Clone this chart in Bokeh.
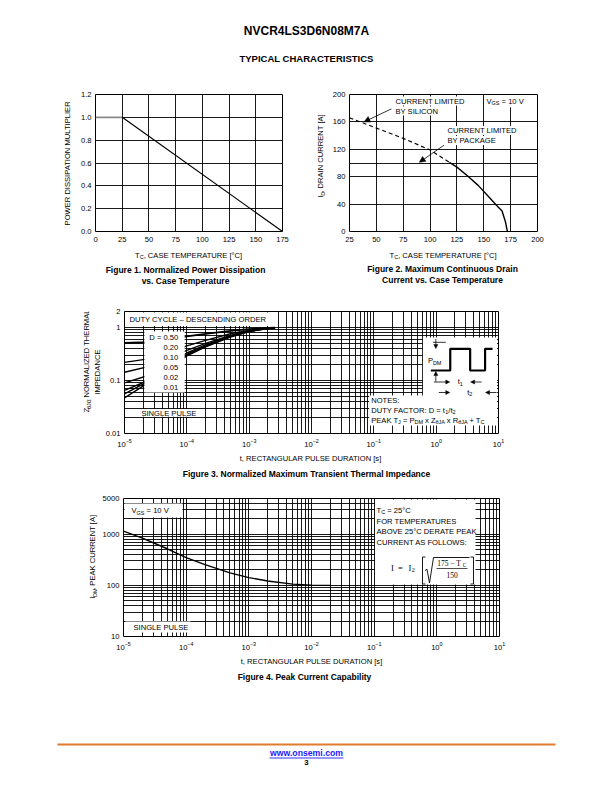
import math
from bokeh.plotting import figure
from bokeh.layouts import column, row
from bokeh.models import Label, Arrow, NormalHead, FixedTicker, CustomJSTickFormatter, PrintfTickFormatter
from bokeh.embed import file_html
from bokeh.resources import INLINE

SANS = "Liberation Sans"
SERIF = "Liberation Serif"

# ---------------- data ----------------
# Figure 1: normalized power dissipation vs case temperature
fig1_temp = [0, 25, 175]
fig1_mult = [1.0, 1.0, 0.0]
fig1_xticks = [0, 25, 50, 75, 100, 125, 150, 175]
fig1_yticks = [0.0, 0.2, 0.4, 0.6, 0.8, 1.0, 1.2]

# Figure 2: maximum continuous drain current vs case temperature
fig2_si_temp = [25, 50, 75, 100, 118]
fig2_si_cur = [166, 151, 136, 119, 101]
fig2_temp = [118, 125, 135, 145, 155, 162, 167, 170, 172]
fig2_cur = [101, 94, 81, 67, 50, 38, 30, 15, 0]
fig2_xticks = [25, 50, 75, 100, 125, 150, 175, 200]
fig2_yticks = [0, 40, 80, 120, 160, 200]
fig2_ygrid = [40, 80, 100, 120, 160]

# Figure 3: transient thermal impedance
fig3_t = [1e-5, 2.4e-5, 1e-4, 2e-4, 5e-4, 1e-3, 2e-3, 2.6e-3]
fig3_duty = ["0.50", "0.20", "0.10", "0.05", "0.02", "0.01"]
fig3_z_d50 = [0.51, 0.53, 0.68, 0.76, 0.86, 0.93, 0.98, 0.99]
fig3_z_d20 = [0.22, 0.255, 0.45, 0.57, 0.76, 0.89, 0.97, 0.99]
fig3_z_d10 = [0.143, 0.183, 0.37, 0.50, 0.71, 0.87, 0.96, 0.99]
fig3_z_d05 = [0.09, 0.124, 0.33, 0.47, 0.69, 0.86, 0.96, 0.99]
fig3_z_d02 = [0.065, 0.10, 0.31, 0.45, 0.68, 0.85, 0.96, 0.99]
fig3_z_d01 = [0.056, 0.096, 0.30, 0.44, 0.67, 0.85, 0.96, 0.99]
fig3_z_single = [0.047, 0.09, 0.29, 0.43, 0.66, 0.84, 0.95, 0.99]
fig3_yticks = [0.01, 0.1, 1, 2]

# Figure 4: peak current capability
fig4_t = [1e-5, 2e-5, 5e-5, 1e-4, 2e-4, 5e-4, 1e-3, 2e-3, 5e-3, 1e-2, 2e-2]
fig4_i = [1150, 840, 520, 350, 255, 175, 142, 122, 106, 101, 100]
fig4_yticks = [10, 100, 1000, 5000]

t_decades = [1e-5, 1e-4, 1e-3, 1e-2, 1e-1, 1, 10]
t_minor = [k * d for d in t_decades[:-1] for k in range(2, 10)]
z_minor = [k * d for d in [0.01, 0.1] for k in range(2, 10)]
i_minor = [k * d for d in [10, 100] for k in range(2, 10)] + [2000, 3000, 4000]

# ---------------- helpers ----------------
AW = {' ': 278, '!': 278, '(': 333, ')': 333, '+': 584, ',': 278, '-': 333, '.': 278, '/': 278,
      ':': 278, '=': 584, '[': 278, ']': 278, '°': 400, 'θ': 521, '–': 556, '−': 584,
      'A': 667, 'B': 667, 'C': 722, 'D': 722, 'E': 667, 'F': 611, 'G': 778, 'H': 722, 'I': 278,
      'J': 500, 'K': 667, 'L': 556, 'M': 833, 'N': 722, 'O': 778, 'P': 667, 'Q': 778, 'R': 722,
      'S': 667, 'T': 611, 'U': 722, 'V': 667, 'W': 944, 'X': 667, 'Y': 667, 'Z': 611,
      'a': 556, 'b': 556, 'c': 500, 'd': 556, 'e': 556, 'f': 278, 'g': 556, 'h': 556, 'i': 222,
      'j': 222, 'k': 500, 'l': 222, 'm': 833, 'n': 556, 'o': 556, 'p': 556, 'q': 556, 'r': 333,
      's': 500, 't': 278, 'u': 556, 'v': 500, 'w': 722, 'x': 500, 'y': 500, 'z': 500}


def tw(s, size):
    return sum(AW.get(c, 556) for c in s) / 1000.0 * size


class G:
    def __init__(s, fx0, fx1, fy0, fy1, x0, x1, y0, y1, xlog=False, ylog=False):
        s.fx0, s.fx1, s.fy0, s.fy1 = fx0, fx1, fy0, fy1
        s.x0, s.x1, s.y0, s.y1 = x0, x1, y0, y1
        s.xlog, s.ylog = xlog, ylog

    def x(s, px):
        f = (px - s.fx0) / (s.fx1 - s.fx0)
        if s.xlog:
            return 10 ** (math.log10(s.x0) + f * (math.log10(s.x1) - math.log10(s.x0)))
        return s.x0 + f * (s.x1 - s.x0)

    def y(s, py):
        f = (s.fy1 - py) / (s.fy1 - s.fy0)
        if s.ylog:
            return 10 ** (math.log10(s.y0) + f * (math.log10(s.y1) - math.log10(s.y0)))
        return s.y0 + f * (s.y1 - s.y0)


def put(p, g, px, py, parts, size=7.6, align="left", vertical=False, font=SANS, bold=False,
        color="black", bg=None):
    style = "bold" if bold else "normal"
    if isinstance(parts, str):
        p.add_layout(Label(x=g.x(px), y=g.y(py), text=parts, text_font=font,
                           text_font_size=f"{size:.2f}px", text_font_style=style,
                           text_color=color, text_align=align, text_baseline="middle",
                           angle=(math.pi / 2 if vertical else 0),
                           background_fill_color=bg))
        return
    ss = size * 0.72
    ws = [tw(t, ss if k else size) for t, k in parts]
    total = sum(ws)
    cur = {"left": 0, "center": -total / 2, "right": -total}[align]
    for (t, k), w in zip(parts, ws):
        s = ss if k else size
        lead = tw(t[:len(t) - len(t.lstrip(' '))], s)
        txt = t.strip(' ')
        if txt:
            shift = 0.3 * size if k == 1 else 0
            pos = cur + lead
            if vertical:
                X, Y, ang = px + shift, py - pos, math.pi / 2
            else:
                X, Y, ang = px + pos, py + shift, 0
            p.add_layout(Label(x=g.x(X), y=g.y(Y), text=txt, text_font=font,
                               text_font_size=f"{s:.2f}px", text_font_style=style,
                               text_color=color, text_align="left", text_baseline="middle",
                               angle=ang))
        cur += w


def box(p, g, x0, x1, y0, y1):
    p.quad(left=g.x(x0), right=g.x(x1), top=g.y(y0), bottom=g.y(y1),
           fill_color="white", line_color=None)


def seg(p, g, pts, w=1.0):
    p.line([g.x(a) for a, b in pts], [g.y(b) for a, b in pts], line_color="black", line_width=w)


def arrow(p, g, x0, y0, x1, y1, size=5):
    p.add_layout(Arrow(end=NormalHead(size=size, fill_color="black", line_color="black", line_width=0.5),
                       x_start=g.x(x0), y_start=g.y(y0), x_end=g.x(x1), y_end=g.y(y1),
                       line_width=0.8, line_color="black"))


def style(p):
    p.title.visible = False
    p.outline_line_color = "black"
    p.outline_line_width = 1
    p.outline_line_alpha = 1
    p.background_fill_color = "white"
    p.border_fill_color = "white"
    for ax in p.axis:
        ax.axis_line_color = None
        ax.major_tick_line_color = None
        ax.minor_tick_line_color = None
        ax.major_tick_out = 0
        ax.major_tick_in = 0
        ax.minor_tick_out = 0
        ax.minor_tick_in = 0
        ax.major_label_text_font = SANS
        ax.major_label_text_font_size = "7.6px"
        ax.major_label_text_color = "black"
    p.xaxis.major_label_standoff = 5
    p.yaxis.major_label_standoff = 4
    p.grid.grid_line_color = "black"
    p.grid.grid_line_width = 0.9


def strip(left, top, w, h):
    p = figure(width=w, height=h, x_range=(left, left + w), y_range=(top + h, top), min_border=0,
               x_axis_location=None, y_axis_location=None, toolbar_location=None,
               output_backend="svg")
    p.title.visible = False
    p.outline_line_color = None
    p.grid.visible = False
    p.background_fill_color = "white"
    p.border_fill_color = "white"
    return p, G(left, left + w, top, top + h, left, left + w, top + h, top)


# ---------------- header ----------------
hdr, gh = strip(0, 0, 612, 75)
put(hdr, gh, 306, 30, "NVCR4LS3D6N08M7A", size=12, bold=True, align="center")
put(hdr, gh, 306, 58, "TYPICAL CHARACTERISTICS", size=9.5, bold=True, align="center")

# ---------------- figure 1 ----------------
s1, gs1 = strip(0, 75, 74, 172)
put(s1, gs1, 67, 161.5, "POWER DISSIPATION MULTIPLIER", vertical=True, align="center")

p1 = figure(width=232, height=172, x_range=(0, 175), y_range=(0, 1.2),
            min_border_left=21, min_border_right=24, min_border_top=17, min_border_bottom=16,
            toolbar_location=None, output_backend="svg")
style(p1)
p1.xaxis.ticker = FixedTicker(ticks=fig1_xticks)
p1.yaxis.ticker = FixedTicker(ticks=fig1_yticks)
p1.xgrid.ticker = FixedTicker(ticks=fig1_xticks)
p1.ygrid.ticker = FixedTicker(ticks=fig1_yticks)
p1.yaxis.formatter = PrintfTickFormatter(format="%.1f")
p1.line(fig1_temp[:2], fig1_mult[:2], line_color="#8a8a8a", line_width=1.6)
p1.line(fig1_temp[1:], fig1_mult[1:], line_color="black", line_width=1.2)

# ---------------- figure 2 ----------------
s2, gs2 = strip(306, 75, 21, 172)
put(s2, gs2, 320, 162, [("I", 0), ("D", 1), (", DRAIN CURRENT [A]", 0)], vertical=True, align="center")

p2 = figure(width=285, height=172, x_range=(25, 200), y_range=(0, 200),
            min_border_left=22, min_border_right=75, min_border_top=19, min_border_bottom=16,
            toolbar_location=None, output_backend="svg")
style(p2)
p2.xaxis.ticker = FixedTicker(ticks=fig2_xticks)
p2.yaxis.ticker = FixedTicker(ticks=fig2_yticks)
p2.xgrid.ticker = FixedTicker(ticks=fig2_xticks)
p2.ygrid.ticker = FixedTicker(ticks=fig2_ygrid)
p2.line(fig2_si_temp, fig2_si_cur, line_color="black", line_width=1.2, line_dash="4 3")
p2.line(fig2_temp, fig2_cur, line_color="black", line_width=1.4)
g2 = G(349, 537, 94, 231, 25, 200, 0, 200)
p2.quad(left=152, right=199.5, top=199.4, bottom=181.5, fill_color="white", line_color=None)
put(p2, g2, 486, 100.5, [("V", 0), ("GS", 1), (" = 10 V", 0)])
put(p2, g2, 395, 100.5, "CURRENT LIMITED", bg="white")
put(p2, g2, 395, 110.5, "BY SILICON", bg="white")
put(p2, g2, 447, 130, "CURRENT LIMITED", bg="white")
put(p2, g2, 447, 140, "BY PACKAGE", bg="white")
p2.add_layout(Arrow(end=NormalHead(size=6, fill_color="black", line_color="black", line_width=0.5),
                    x_start=64, y_start=179, x_end=38.5, y_end=160, line_width=0.8))
p2.add_layout(Arrow(end=NormalHead(size=6, fill_color="black", line_color="black", line_width=0.5),
                    x_start=113, y_start=126, x_end=90, y_end=101, line_width=0.8))

# captions for figures 1 and 2
c12, gc12 = strip(0, 247, 612, 45)
put(c12, gc12, 188.5, 254.5, [("T", 0), ("C", 1), (", CASE TEMPERATURE [°C]", 0)], align="center")
put(c12, gc12, 185, 269, "Figure 1. Normalized Power Dissipation", size=8.5, bold=True, align="center")
put(c12, gc12, 185, 280, "vs. Case Temperature", size=8.5, bold=True, align="center")
put(c12, gc12, 443, 254.5, [("T", 0), ("C", 1), (", CASE TEMPERATURE [°C]", 0)], align="center")
put(c12, gc12, 442, 268, "Figure 2. Maximum Continuous Drain", size=8.5, bold=True, align="center")
put(c12, gc12, 442, 279, "Current vs. Case Temperature", size=8.5, bold=True, align="center")

# ---------------- figure 3 ----------------
s3, gs3 = strip(0, 292, 102, 161)
put(s3, gs3, 86, 372, [("Z", 0), ("θJC", 1), (", NORMALIZED THERMAL", 0)], vertical=True, align="center")
put(s3, gs3, 96.5, 372, "IMPEDANCE", vertical=True, align="center")

p3 = figure(width=510, height=161, x_axis_type="log", y_axis_type="log",
            x_range=(1e-5, 10), y_range=(0.01, 2),
            min_border_left=20, min_border_right=114, min_border_top=19, min_border_bottom=20,
            toolbar_location=None, output_backend="svg")
style(p3)
tk3x = FixedTicker(ticks=t_decades, minor_ticks=t_minor)
tk3y = FixedTicker(ticks=fig3_yticks, minor_ticks=z_minor)
p3.xaxis.ticker = tk3x
p3.xgrid.ticker = tk3x
p3.yaxis.ticker = tk3y
p3.ygrid.ticker = tk3y
p3.yaxis.formatter = CustomJSTickFormatter(code="return tick.toString();")
p3.xgrid.minor_grid_line_color = "black"
p3.ygrid.minor_grid_line_color = "black"
p3.xgrid.minor_grid_line_width = 0.9
p3.ygrid.minor_grid_line_width = 0.9
for zs, lw in [(fig3_z_d50, 1.8), (fig3_z_d20, 1.4), (fig3_z_d10, 1.4), (fig3_z_d05, 1.4),
               (fig3_z_d02, 1.4), (fig3_z_d01, 1.4), (fig3_z_single, 1.4)]:
    p3.line(fig3_t, zs, line_color="black", line_width=lw)
g3 = G(122, 498, 311, 433, 1e-5, 10, 0.01, 2, xlog=True, ylog=True)
box(p3, g3, 123, 268, 312, 325.5)
box(p3, g3, 142, 182.5, 331, 392)
box(p3, g3, 135, 190, 408.5, 416.2)
box(p3, g3, 422, 496.5, 337, 395.5)
box(p3, g3, 368, 496.5, 395, 425)
put(p3, g3, 127, 319, "DUTY CYCLE – DESCENDING ORDER")
for i, d in enumerate(fig3_duty):
    put(p3, g3, 176, 336.7 + 10 * i, ("D = " if i == 0 else "") + d, align="right")
put(p3, g3, 139, 412.5, "SINGLE PULSE")
# pulse schematic
seg(p3, g3, [(430, 370), (449.5, 370), (449.5, 348.3), (469.5, 348.3), (469.5, 370),
             (484.5, 370), (484.5, 348.3), (492, 348.3)], w=2.2)
seg(p3, g3, [(432, 341.8), (445, 341.8)], w=0.8)
arrow(p3, g3, 435, 338.5, 435, 348, size=4)
arrow(p3, g3, 435, 381, 435, 371, size=4)
arrow(p3, g3, 433, 381.5, 449, 381.5, size=4)
arrow(p3, g3, 481, 381.5, 470, 381.5, size=4)
arrow(p3, g3, 438, 392, 449, 392, size=4)
arrow(p3, g3, 496, 392, 485, 392, size=4)
put(p3, g3, 427, 360, [("P", 0), ("DM", 1)])
put(p3, g3, 457, 381, [("t", 0), ("1", 1)])
put(p3, g3, 466.5, 391.5, [("t", 0), ("2", 1)])
put(p3, g3, 370, 399.5, "NOTES:")
put(p3, g3, 370, 409.5, [("DUTY FACTOR: D = t", 0), ("1", 1), ("/t", 0), ("2", 1)])
put(p3, g3, 370, 419.5, [("PEAK T", 0), ("J", 1), (" = P", 0), ("DM", 1), (" x Z", 0), ("θJA", 1),
                         (" x R", 0), ("θJA", 1), (" + T", 0), ("C", 1)])

c3, gc3 = strip(0, 453, 612, 35)
put(c3, gc3, 310, 458, "t, RECTANGULAR PULSE DURATION [s]", align="center")
put(c3, gc3, 306, 473, "Figure 3. Normalized Maximum Transient Thermal Impedance", size=8.5,
    bold=True, align="center")

# ---------------- figure 4 ----------------
s4, gs4 = strip(0, 488, 99, 168)
put(s4, gs4, 92, 567, [("I", 0), ("DM", 1), (", PEAK CURRENT [A]", 0)], vertical=True, align="center")

p4 = figure(width=513, height=168, x_axis_type="log", y_axis_type="log",
            x_range=(1e-5, 10), y_range=(10, 5000),
            min_border_left=24, min_border_right=113, min_border_top=10, min_border_bottom=20,
            toolbar_location=None, output_backend="svg")
style(p4)
tk4x = FixedTicker(ticks=t_decades, minor_ticks=t_minor)
tk4y = FixedTicker(ticks=fig4_yticks, minor_ticks=i_minor)
p4.xaxis.ticker = tk4x
p4.xgrid.ticker = tk4x
p4.yaxis.ticker = tk4y
p4.ygrid.ticker = tk4y
p4.yaxis.formatter = CustomJSTickFormatter(code="return tick.toString();")
p4.xgrid.minor_grid_line_color = "black"
p4.ygrid.minor_grid_line_color = "black"
p4.xgrid.minor_grid_line_width = 0.9
p4.ygrid.minor_grid_line_width = 0.9
p4.line(fig4_t, fig4_i, line_color="black", line_width=1.4)
g4 = G(123, 499, 498, 636, 1e-5, 10, 10, 5000, xlog=True, ylog=True)
box(p4, g4, 124, 182, 503, 517)
box(p4, g4, 125, 190, 621, 632)
box(p4, g4, 374.5, 475, 499, 584)
put(p4, g4, 131, 510, [("V", 0), ("GS", 1), (" = 10 V", 0)])
put(p4, g4, 133, 626.5, "SINGLE PULSE")
put(p4, g4, 376, 509.5, [("T", 0), ("C", 1), (" = 25°C", 0)])
put(p4, g4, 376, 520.5, "FOR TEMPERATURES")
put(p4, g4, 376, 531, "ABOVE 25°C DERATE PEAK")
put(p4, g4, 376, 541.5, "CURRENT AS FOLLOWS:")
# derating formula
put(p4, g4, 390.5, 567, "I", size=8.5, font=SERIF)
put(p4, g4, 400, 567, "=", size=8.5, font=SERIF, align="center")
put(p4, g4, 408, 567, "I", size=8.5, font=SERIF)
put(p4, g4, 411.3, 569.5, "2", size=6, font=SERIF)
seg(p4, g4, [(425, 556.5), (422, 556.5), (422, 583.5), (425, 583.5)], w=0.9)
seg(p4, g4, [(470, 556.5), (473, 556.5), (473, 583.5), (470, 583.5)], w=0.9)
seg(p4, g4, [(424.5, 570), (426.5, 568.8), (429, 582.5), (433, 557), (469, 557)], w=0.9)
seg(p4, g4, [(436, 568), (467, 568)], w=0.7)
put(p4, g4, 451.5, 562.5, [("175 − T", 0), ("C", 1)], size=7.5, font=SERIF, align="center")
put(p4, g4, 451.5, 574, "150", size=7.5, font=SERIF, align="center")

c4, gc4 = strip(0, 656, 612, 32)
put(c4, gc4, 311, 661, "t, RECTANGULAR PULSE DURATION [s]", align="center")
put(c4, gc4, 304, 676, "Figure 4. Peak Current Capability", size=8.5, bold=True, align="center")

# ---------------- footer ----------------
ftr, gf = strip(0, 688, 612, 104)
ftr.line([57, 555], [744, 744], line_color="#DF7B2F", line_width=2)
put(ftr, gf, 306, 752.5, "www.onsemi.com", size=8.7, bold=True, align="center", color="#1a1aff")
ftr.line([269, 343], [757.5, 757.5], line_color="#1a1aff", line_width=0.9)
put(ftr, gf, 306, 762, "3", size=7.8, bold=True, align="center")

page = column(hdr,
              row(s1, p1, s2, p2, spacing=0),
              c12,
              row(s3, p3, spacing=0),
              c3,
              row(s4, p4, spacing=0),
              c4,
              ftr, spacing=0)
open("out.html", "w").write(file_html(page, INLINE))
